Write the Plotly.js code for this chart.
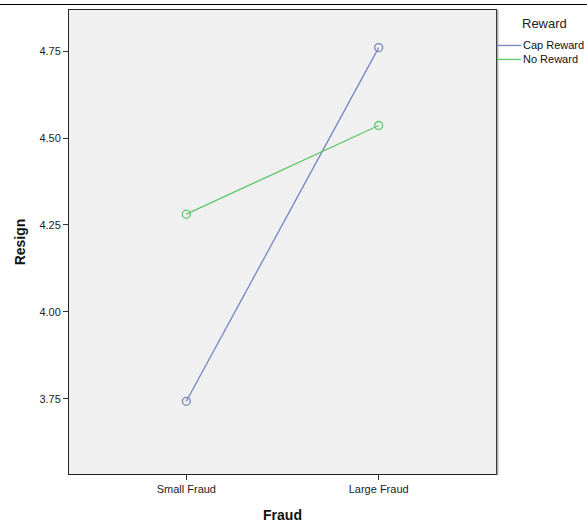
<!DOCTYPE html>
<html>
<head>
<meta charset="utf-8">
<script src="https://cdn.plot.ly/plotly-3.0.1.min.js"></script>
<style>html,body{margin:0;padding:0;background:#fff;}#chart{width:587px;height:523px;}</style>
</head>
<body>
<div id="chart"></div>
<script>
const categories = ["Small Fraud", "Large Fraud"];
const seriesNames = ["Cap Reward", "No Reward"];
const capReward = [3.743, 4.760];
const noReward = [4.281, 4.536];
const yTicks = [3.75, 4.00, 4.25, 4.50, 4.75];
const yTickLabels = ["3.75", "4.00", "4.25", "4.50", "4.75"];
const legendTitle = "Reward";

const colors = ["#7585c4", "#5ec86a"];
const traces = [capReward, noReward].map((vals, i) => ({
  type: "scatter",
  mode: "lines+markers",
  name: seriesNames[i],
  x: [0, 1],
  y: vals,
  line: {color: colors[i], width: 1.3},
  marker: {symbol: "circle-open", size: 8, color: colors[i], line: {width: 1.3}}
}));

const W = 587, H = 523, L = 69, R = 91, T = 9.5, B = 49;
const pw = W - L - R, ph = H - T - B;
const px = v => (v - L) / pw;          // pixel x -> paper x
const py = v => (H - B - v) / ph;      // pixel y -> paper y

const shapes = [{
  type: "line", xref: "paper", yref: "paper",
  x0: px(0), x1: px(W), y0: py(4), y1: py(4),
  line: {color: "#000", width: 1}
}, {
  type: "line", xref: "paper", yref: "paper",
  x0: px(W - R + 1.5), x1: px(W - R + 1.5), y0: py(T), y1: py(H - B + 1),
  line: {color: "rgba(120,120,120,0.6)", width: 2}
}];
const annotations = [{
  xref: "paper", yref: "paper", x: px(520), y: py(23),
  xanchor: "left", yanchor: "middle", showarrow: false,
  text: legendTitle, font: {size: 13, color: "#222"}
}];
const legendY = [45, 59];
seriesNames.forEach((n, i) => {
  shapes.push({
    type: "line", xref: "paper", yref: "paper",
    x0: px(497), x1: px(521), y0: py(legendY[i]), y1: py(legendY[i]),
    line: {color: colors[i], width: 1.3}
  });
  annotations.push({
    xref: "paper", yref: "paper", x: px(521), y: py(legendY[i]),
    xanchor: "left", yanchor: "middle", showarrow: false,
    text: n, font: {size: 11, color: "#111"}
  });
});

const layout = {
  width: W, height: H,
  margin: {l: L, r: R, t: T, b: B, pad: 0},
  paper_bgcolor: "#ffffff",
  plot_bgcolor: "#f0f0f0",
  font: {family: "Liberation Sans, Arial, sans-serif", size: 11, color: "#222"},
  showlegend: false,
  xaxis: {
    range: [-0.61, 1.61],
    tickmode: "array", tickvals: [0, 1], ticktext: categories,
    ticks: "outside", ticklen: 5, tickcolor: "#333",
    showgrid: false, zeroline: false,
    showline: true, linecolor: "#222", linewidth: 1, mirror: true,
    title: {text: "Fraud", font: {size: 14, color: "#111", weight: "bold"}, standoff: 15},
    tickfont: {size: 11, color: "#222"}
  },
  yaxis: {
    range: [3.534, 4.868],
    tickmode: "array", tickvals: yTicks, ticktext: yTickLabels,
    ticks: "outside", ticklen: 5, tickcolor: "#333",
    showgrid: false, zeroline: false,
    showline: true, linecolor: "#222", linewidth: 1, mirror: true,
    title: {text: "Resign", font: {size: 14, color: "#111", weight: "bold"}, standoff: 10},
    tickfont: {size: 11, color: "#222"}
  },
  shapes: shapes,
  annotations: annotations
};

Plotly.newPlot("chart", traces, layout, {displayModeBar: false, staticPlot: true});
</script>
</body>
</html>
